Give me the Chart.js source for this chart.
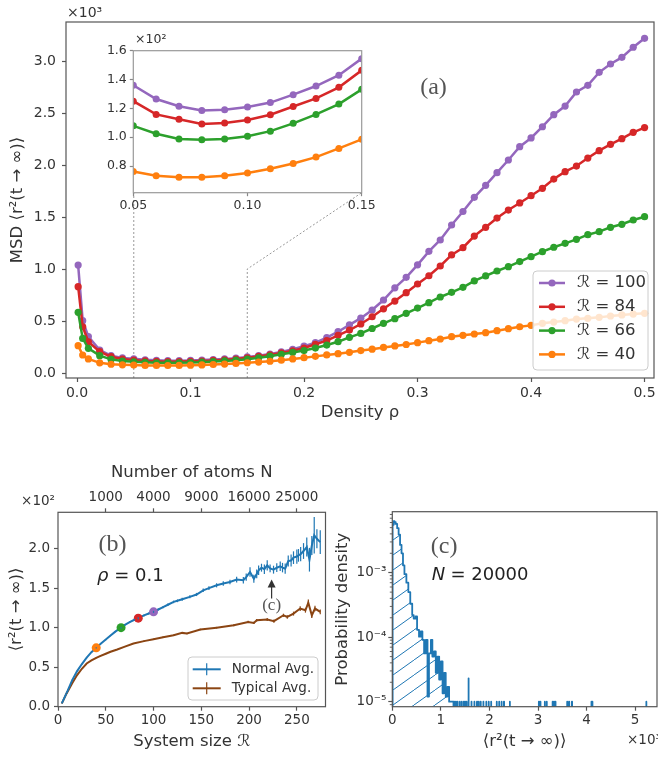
<!DOCTYPE html>
<html lang="en">
<head>
<meta charset="UTF-8" />
<title>MSD vs density</title>
<style>
  body { margin: 0; background: #fff; }
  #wrap { position: relative; width: 658px; height: 757px; overflow: hidden; background: #fff; }
  canvas { position: absolute; }
  #cMain { left: 0; top: 0; }
  #cInset { left: 85px; top: 25px; }
  #cB { left: 0; top: 450px; }
  #cC { left: 330px; top: 450px; }
</style>
<script src="https://cdn.jsdelivr.net/npm/chart.js"></script>
</head>
<body>
<div id="wrap">
  <canvas id="cMain" width="658" height="430"></canvas>
  <canvas id="cB" width="330" height="307"></canvas>
  <canvas id="cC" width="328" height="307"></canvas>
  <canvas id="cInset" width="290" height="190"></canvas>
</div>
<script>
// ---------- panel (a): MSD vs density ----------
const density = [0.001, 0.005, 0.01, 0.02, 0.03, 0.04, 0.05, 0.06, 0.07, 0.08, 0.09, 0.10,
  0.11, 0.12, 0.13, 0.14, 0.15, 0.16, 0.17, 0.18, 0.19, 0.20, 0.21, 0.22, 0.23, 0.24, 0.25,
  0.26, 0.27, 0.28, 0.29, 0.30, 0.31, 0.32, 0.33, 0.34, 0.35, 0.36, 0.37, 0.38, 0.39, 0.40,
  0.41, 0.42, 0.43, 0.44, 0.45, 0.46, 0.47, 0.48, 0.49, 0.50];
const msdR100 = [1038, 503, 350, 221, 167, 145, 136, 126.5, 121.5, 118.5, 119, 121, 124, 129.5,
  135.5, 143, 154.5, 167, 183, 203, 228, 258, 292, 340, 397, 463, 527, 606, 702, 819, 920, 1040,
  1170, 1279, 1423, 1553, 1689, 1805, 1926, 2048, 2176, 2260, 2368, 2484, 2567, 2702, 2766, 2891,
  2971, 3035, 3132, 3218];
const msdR84 = [830, 445, 300, 205, 157, 134, 125, 115.8, 112.4, 109.1, 109.8, 111.9, 115.6, 121.3,
  126.9, 134.6, 146.4, 160, 175, 193, 214, 240, 276, 311, 363, 413, 471, 541, 617, 692, 772, 856,
  935, 1029, 1135, 1205, 1317, 1401, 1490, 1567, 1635, 1705, 1776, 1865, 1936, 1990, 2067, 2138,
  2199, 2253, 2314, 2360];
const msdR66 = [583, 333, 237, 167, 131, 115, 107.9, 102.4, 98.7, 98.2, 98.7, 100.6, 104.2, 109.6,
  115.8, 123, 133.2, 146, 162, 180, 198, 216, 240, 269, 301, 343, 381, 428, 478, 522, 574, 624,
  676, 731, 776, 824, 885, 933, 981, 1022, 1071, 1119, 1167, 1209, 1247, 1285, 1330, 1359, 1401,
  1430, 1471, 1503];
const msdR40 = [263, 173, 135, 98, 84, 79, 76.2, 73.2, 72.3, 72.3, 73.2, 75.1, 78.1, 81.8, 86.2,
  92.2, 98.5, 105, 113, 123, 135, 147, 160, 174, 186, 199, 216, 229, 246, 260, 274, 292, 311, 327,
  349, 362, 375, 388, 407, 426, 445, 458, 478, 490, 503, 519, 526, 535, 548, 558, 567, 574];
const sizeLabels = ['ℛ = 100', 'ℛ = 84', 'ℛ = 66', 'ℛ = 40'];
const aXTicks = [0, 0.1, 0.2, 0.3, 0.4, 0.5];
const aYTicks = [0, 500, 1000, 1500, 2000, 2500, 3000];
const zoomRange = [0.05, 0.15];
const zoomBend = 1000;
const insetXTicks = [0.05, 0.10, 0.15];
const insetYTicks = [80, 100, 120, 140, 160];

// ---------- panel (b): MSD vs system size ----------
const sizeNormal = [4, 10, 15, 20, 25, 30, 35, 40, 45, 50, 55, 60, 66, 70, 75, 80, 84, 90, 95, 100,
  105, 110, 115, 121, 125, 130, 138, 145, 152, 158, 166, 173, 180, 187, 194, 197, 201, 205, 208,
  210, 213, 216, 219, 222, 225.6, 229, 232.6, 235, 237.8, 241, 244, 246.5, 250, 251.7, 254, 257,
  260.4, 263.2, 265.7, 268.2, 271, 274.5];
const normalAvg = [4.2, 20, 34, 45, 54, 62, 69, 74.5, 80, 85, 90, 95, 100, 103.5, 107, 110, 112,
  115.5, 118, 120, 123, 126, 129, 132.6, 134, 136, 139, 142, 147.3, 150, 153.6, 156, 157.8, 160.8,
  160, 164, 170.5, 162, 168, 172.6, 175.9, 174, 178.9, 175, 173.4, 175.9, 177.6, 176, 174.7, 184.3,
  185, 188.6, 190, 191.5, 193, 197, 202, 186, 204, 217, 212.5, 208.3];
const normalErr = [0.2, 0.3, 0.4, 0.5, 0.5, 0.6, 0.6, 0.7, 0.7, 0.8, 0.8, 0.9, 1, 1, 1, 1.1, 1.2,
  1.2, 1.3, 1.3, 1.4, 1.5, 1.5, 1.6, 1.7, 1.8, 1.9, 2, 2.2, 2.4, 2.6, 2.8, 3, 3.5, 4, 4.5, 6, 5,
  5.5, 6, 5, 6, 6.5, 5, 5, 5.5, 6, 6, 6.5, 7, 7.5, 8, 9, 8, 9, 10, 12, 15, 12, 23, 12, 15];
const sizeTypical = [4, 9, 15, 20, 25, 30, 35, 40, 44, 50, 55, 62, 70, 79, 90, 100, 110, 121, 130,
  135, 149, 166, 184, 199, 205, 208, 219, 226, 236, 240, 246.5, 253.5, 259, 262, 265.7, 269, 274.5];
const typicalAvg = [4.2, 16.8, 30, 40, 48, 54.7, 58.5, 61.8, 64, 67, 69.5, 72.4, 76, 80, 83, 85.4,
  88, 90.5, 93.4, 92.6, 97.6, 100, 103, 107.3, 106, 109.4, 110.3, 108.2, 115.7, 113.6, 117.8, 124.2,
  122, 131.7, 115.7, 124.2, 120];
const typicalErr = [0.1, 0.2, 0.2, 0.3, 0.3, 0.3, 0.4, 0.4, 0.4, 0.5, 0.5, 0.5, 0.6, 0.6, 0.7, 0.7,
  0.8, 0.8, 0.9, 0.9, 1, 1, 1.2, 1.5, 1.5, 1.6, 1.8, 2, 2, 2.2, 2.5, 3, 3, 4, 3.5, 3.5, 3];
const markedSizes = [40, 66, 84, 100];
const markedValues = [74.5, 100, 112, 120];
const bXTicks = [0, 50, 100, 150, 200, 250];
const bTopTicks = [50, 100, 150, 200, 250];
const atomCounts = ['1000', '4000', '9000', '16000', '25000'];
const bYTicks = [0, 50, 100, 150, 200];
const arrowNote = { size: 223.6, head: 161, tail: 137, label: 127.5 };

// ---------- panel (c): distribution at N = 20000 ----------
const histEdges = [0, 10, 25, 45, 70, 100, 130, 160, 190, 220, 250, 290, 330, 370, 410, 440, 480,
  510, 550, 585, 620, 655, 690, 725, 755, 795, 825, 860, 895, 930, 965, 1000, 1035, 1065, 1100,
  1135, 1170, 1260];
const histDensity = [3.2e-3, 5.5e-3, 6.3e-3, 6.1e-3, 5.7e-3, 4.9e-3, 3.9e-3, 2.7e-3, 2.0e-3,
  1.3e-3, 9.5e-4, 7.0e-4, 5.0e-4, 3.3e-4, 2.2e-4, 1.95e-4, 2.1e-4, 1.3e-4, 1.02e-4, 1.23e-4,
  9.1e-5, 5.6e-5, 9.1e-5, 1.2e-5, 5.6e-5, 9.1e-5, 5.0e-5, 6.0e-5, 2.8e-5, 5.0e-5, 2.2e-5, 4.2e-5,
  1.35e-5, 2.8e-5, 1.2e-5, 1.7e-5, 1.0e-5];
const spikeCenters = [1275, 1310, 1345, 1390, 1430, 1475, 1500, 1530, 1570, 1630, 1690, 1745, 1780,
  1820, 1875, 1935, 1985, 2035, 2150, 2200, 2250, 2300, 2420, 3020, 3050, 3140, 3180, 3300, 3330,
  3360, 3600, 3640, 3700, 4100, 4120, 5230];
const spikeDensity = [1e-5, 1e-5, 1e-5, 1e-5, 1e-5, 1e-5, 1e-5, 1e-5, 2.3e-5, 1e-5, 1e-5, 1e-5,
  1e-5, 1e-5, 1e-5, 1e-5, 1e-5, 1e-5, 1e-5, 1e-5, 1e-5, 1e-5, 1e-5, 1e-5, 1e-5, 1e-5, 1e-5, 1e-5,
  1e-5, 1e-5, 1e-5, 1e-5, 1e-5, 1e-5, 1e-5, 1e-5];
const spikeBinWidth = 5;
const cXTicks = [0, 1000, 2000, 3000, 4000, 5000];
const cYTicks = [1e-5, 1e-4, 1e-3];
const cYTickLabels = ['10⁻⁵', '10⁻⁴', '10⁻³'];

const lineColors = ['#9467bd', '#d62728', '#2ca02c', '#ff7f0e'];
const blue = '#1f77b4', brown = '#8b4513';

Chart.defaults.font.family = "'DejaVu Sans', sans-serif";
Chart.defaults.color = '#333';
Chart.defaults.animation = false;
Chart.defaults.events = [];
Chart.defaults.plugins.legend.display = false;
Chart.defaults.plugins.tooltip.enabled = false;

// box around every plot area, like matplotlib spines
Chart.register({
  id: 'frame',
  afterDatasetsDraw(chart, args, opts) {
    const { ctx, chartArea: a } = chart;
    ctx.save();
    ctx.strokeStyle = opts.color || '#555';
    ctx.lineWidth = 1.2;
    ctx.strokeRect(a.left, a.top, a.right - a.left, a.bottom - a.top);
    ctx.restore();
  }
});

function makeAxis(o) {
  return Object.assign({
    type: 'linear',
    afterBuildTicks: ax => { ax.ticks = o.ticks.map(v => ({ value: v })); },
    afterFit: ax => {
      if (ax.isHorizontal()) ax.height = o.size; else ax.width = o.size;
      ax.paddingLeft = ax.paddingRight = ax.paddingTop = ax.paddingBottom = 0;
    },
    ticks: { font: { size: o.font || 14 }, padding: o.pad, autoSkip: false, maxRotation: 0,
      color: '#333', callback: o.fmt },
    grid: { drawOnChartArea: false, tickLength: o.tick || 4, color: o.tickColor || '#555', tickWidth: 1.2 },
    border: { display: false },
    title: o.title ? { display: true, text: o.title, font: { size: 16.5 }, padding: 0, color: '#333' }
                   : { display: false }
  }, o.extra || {});
}

function msdDatasets(radius) {
  return [msdR100, msdR84, msdR66, msdR40].map((vals, i) => ({
    label: sizeLabels[i],
    data: density.map((d, j) => ({ x: d, y: vals[j] })),
    borderColor: lineColors[i],
    backgroundColor: lineColors[i],
    pointBackgroundColor: lineColors[i],
    borderWidth: 2.5,
    pointRadius: radius,
    pointBorderWidth: 0,
    order: 4 - i,
    clip: 0
  }));
}

function text(ctx, str, x, y, font, color, align) {
  ctx.save();
  ctx.font = font;
  ctx.fillStyle = color;
  ctx.textAlign = align || 'left';
  ctx.textBaseline = 'middle';
  ctx.fillText(str, x, y);
  ctx.restore();
}

function legendBox(ctx, x, y, w, h) {
  ctx.save();
  ctx.beginPath();
  ctx.roundRect(x, y, w, h, 4);
  ctx.fillStyle = 'rgba(255,255,255,0.8)';
  ctx.fill();
  ctx.strokeStyle = '#ccc';
  ctx.lineWidth = 1;
  ctx.stroke();
  ctx.restore();
}

// ---------- inset ----------
const insetCanvas = document.getElementById('cInset');
const insetChart = new Chart(insetCanvas, {
  type: 'line',
  data: { datasets: msdDatasets(3.5) },
  options: {
    responsive: false,
    layout: { padding: { left: 0, top: 25.7, right: 13.3, bottom: 0.3 } },
    scales: {
      x: makeAxis({ ticks: insetXTicks, size: 22, font: 12.5, pad: 2, tick: 3.5, tickColor: '#888',
        fmt: v => v.toFixed(2), extra: { min: zoomRange[0], max: zoomRange[1] } }),
      y: makeAxis({ ticks: insetYTicks, size: 48.3, font: 12.5, pad: 3, tick: 3.5, tickColor: '#888',
        fmt: v => (v / 100).toFixed(1), extra: { min: 61.5, max: 160 } })
    },
    plugins: { frame: { color: '#999' } }
  },
  plugins: [{
    id: 'insetBg',
    beforeDatasetsDraw(chart) {
      const { ctx, chartArea: a } = chart;
      ctx.save();
      ctx.fillStyle = '#fff';
      ctx.fillRect(a.left, a.top, a.right - a.left, a.bottom - a.top);
      ctx.restore();
    },
    afterDraw(chart) {
      const a = chart.chartArea;
      text(chart.ctx, '×10²', a.left + 1.7, a.top - 10.7, "12.5px 'DejaVu Sans'", '#333');
    }
  }]
});

// ---------- main panel (a) ----------
const mainCanvas = document.getElementById('cMain');
new Chart(mainCanvas, {
  type: 'line',
  data: { datasets: msdDatasets(3.6) },
  options: {
    responsive: false,
    layout: { padding: { left: 7.8, top: 22, right: 3, bottom: 7.8 } },
    scales: {
      x: makeAxis({ ticks: aXTicks, size: 44.2, pad: 3, fmt: v => v.toFixed(1), title: 'Density ρ',
        extra: { min: -0.0097, max: 0.5083 } }),
      y: makeAxis({ ticks: aYTicks, size: 58.2, pad: 6, fmt: v => (v / 1000).toFixed(1),
        title: 'MSD ⟨r²(t → ∞)⟩', extra: { min: -48, max: 3375 } })
    }
  },
  plugins: [{
    id: 'mainDecor',
    beforeDatasetsDraw(chart) {
      const { ctx, scales: { x, y }, chartArea: a } = chart;
      const ia = insetChart.chartArea;
      const insetBottom = insetCanvas.offsetTop - mainCanvas.offsetTop + ia.bottom;
      const insetRight = insetCanvas.offsetLeft - mainCanvas.offsetLeft + ia.right;
      const x0 = x.getPixelForValue(zoomRange[0]);
      const x1 = x.getPixelForValue(zoomRange[1]);
      ctx.save();
      ctx.strokeStyle = '#999';
      ctx.lineWidth = 1;
      ctx.setLineDash([2, 2]);
      ctx.beginPath();
      ctx.moveTo(x0, a.bottom); ctx.lineTo(x0, insetBottom);
      ctx.moveTo(x1, a.bottom); ctx.lineTo(x1, y.getPixelForValue(zoomBend));
      ctx.lineTo(insetRight, insetBottom);
      ctx.stroke();
      ctx.restore();
    },
    afterDraw(chart) {
      const { ctx, chartArea: a } = chart;
      text(ctx, '×10³', a.left + 1, a.top - 9, "14px 'DejaVu Sans'", '#333');
      text(ctx, '(a)', a.left + 0.625 * (a.right - a.left), a.top + 0.185 * (a.bottom - a.top),
        "24px 'Liberation Serif'", '#555', 'center');
      // legend
      const w = 115, h = 99;
      const bx = a.right - 6 - w, by = a.bottom - 8 - h;
      legendBox(ctx, bx, by, w, h);
      chart.data.datasets.forEach((ds, i) => {
        const cy = by + 12 + i * 23.8;
        ctx.save();
        ctx.strokeStyle = ds.borderColor;
        ctx.lineWidth = 2.5;
        ctx.beginPath(); ctx.moveTo(bx + 6, cy); ctx.lineTo(bx + 32, cy); ctx.stroke();
        ctx.fillStyle = ds.borderColor;
        ctx.beginPath(); ctx.arc(bx + 19, cy, 3.6, 0, Math.PI * 2); ctx.fill();
        ctx.restore();
        text(ctx, ds.label, bx + 44, cy, "16.5px 'DejaVu Sans'", '#333');
      });
    }
  }]
});

// ---------- panel (b) ----------
new Chart(document.getElementById('cB'), {
  type: 'line',
  data: {
    datasets: [
      { data: markedSizes.map((s, i) => ({ x: s, y: markedValues[i] })), showLine: false,
        pointRadius: 4.5, pointBorderWidth: 0, pointBackgroundColor: [lineColors[3], lineColors[2], lineColors[1], lineColors[0]],
        order: 0 },
      { label: 'Normal Avg.', data: sizeNormal.map((s, i) => ({ x: s, y: normalAvg[i] })),
        errors: normalErr, borderColor: blue, borderWidth: 2, pointRadius: 0, order: 1 },
      { label: 'Typical Avg.', data: sizeTypical.map((s, i) => ({ x: s, y: typicalAvg[i] })),
        errors: typicalErr, borderColor: brown, borderWidth: 2, pointRadius: 0, order: 2 }
    ]
  },
  options: {
    responsive: false,
    layout: { padding: { left: 7, top: 13, right: 4.5, bottom: 5.1 } },
    scales: {
      x: makeAxis({ ticks: bXTicks, size: 45.2, font: 13.5, pad: 2, fmt: v => String(v),
        title: 'System size ℛ', extra: { min: 0, max: 280 } }),
      xTop: makeAxis({ ticks: bTopTicks, size: 49.3, font: 13.5, pad: 3, fmt: (v, i) => atomCounts[i],
        title: 'Number of atoms N', extra: { position: 'top', min: 0, max: 280 } }),
      y: makeAxis({ ticks: bYTicks, size: 51, font: 13.5, pad: 4, fmt: v => (v / 100).toFixed(1),
        title: '⟨r²(t → ∞)⟩', extra: { min: 0, max: 246 } })
    }
  },
  plugins: [{
    id: 'bDecor',
    afterDatasetsDraw(chart) {
      const { ctx, scales: { x, y } } = chart;
      chart.data.datasets.forEach(ds => {
        if (!ds.errors) return;
        ctx.save();
        ctx.strokeStyle = ds.borderColor;
        ctx.lineWidth = 1.2;
        ds.data.forEach((p, j) => {
          const px = x.getPixelForValue(p.x);
          ctx.beginPath();
          ctx.moveTo(px, y.getPixelForValue(p.y - ds.errors[j]));
          ctx.lineTo(px, y.getPixelForValue(p.y + ds.errors[j]));
          ctx.stroke();
        });
        ctx.restore();
      });
    },
    afterDraw(chart) {
      const { ctx, chartArea: a, scales: { x, y } } = chart;
      const W = a.right - a.left, H = a.bottom - a.top;
      text(ctx, '×10²', a.left - 3, a.top - 10.6, "13.5px 'DejaVu Sans'", '#333', 'right');
      text(ctx, '(b)', a.left + 0.204 * W, a.top + 0.168 * H, "24px 'Liberation Serif'", '#555', 'center');
      const ty = a.top + 0.331 * H, tx = a.left + 0.146 * W;
      text(ctx, 'ρ', tx, ty, "italic 18px 'DejaVu Sans'", '#222');
      text(ctx, ' = 0.1', tx + 11.5, ty, "18px 'DejaVu Sans'", '#222');
      // arrow pointing to the N = 20000 point
      const hx = x.getPixelForValue(arrowNote.size);
      const hy = y.getPixelForValue(arrowNote.head);
      ctx.save();
      ctx.strokeStyle = '#333'; ctx.fillStyle = '#333'; ctx.lineWidth = 1.2;
      ctx.beginPath(); ctx.moveTo(hx, y.getPixelForValue(arrowNote.tail)); ctx.lineTo(hx, hy + 6); ctx.stroke();
      ctx.beginPath(); ctx.moveTo(hx, hy); ctx.lineTo(hx - 4, hy + 8); ctx.lineTo(hx + 4, hy + 8); ctx.closePath(); ctx.fill();
      ctx.restore();
      text(ctx, '(c)', hx, y.getPixelForValue(arrowNote.label), "17px 'Liberation Serif'", '#555', 'center');
      // legend
      const w = 130, h = 43;
      const bx = a.right - 7.5 - w, by = a.bottom - 6.7 - h;
      legendBox(ctx, bx, by, w, h);
      chart.data.datasets.slice(1).forEach((ds, i) => {
        const cy = by + 12.3 + i * 19;
        ctx.save();
        ctx.strokeStyle = ds.borderColor;
        ctx.lineWidth = 2;
        ctx.beginPath(); ctx.moveTo(bx + 4.7, cy); ctx.lineTo(bx + 32.7, cy); ctx.stroke();
        ctx.lineWidth = 1.2;
        ctx.beginPath(); ctx.moveTo(bx + 18.7, cy - 6); ctx.lineTo(bx + 18.7, cy + 6); ctx.stroke();
        ctx.restore();
        text(ctx, ds.label, bx + 43.7, cy, "13.5px 'DejaVu Sans'", '#333');
      });
    }
  }]
});

// ---------- panel (c) ----------
const floorValue = 1e-9;
function stepPoints() {
  const pts = [{ x: histEdges[0], y: floorValue }];
  histDensity.forEach((d, i) => { pts.push({ x: histEdges[i], y: d }, { x: histEdges[i + 1], y: d }); });
  pts.push({ x: histEdges[histEdges.length - 1], y: floorValue });
  spikeCenters.forEach((c, i) => {
    const l = c - spikeBinWidth / 2, r = c + spikeBinWidth / 2;
    pts.push({ x: l, y: floorValue }, { x: l, y: spikeDensity[i] }, { x: r, y: spikeDensity[i] }, { x: r, y: floorValue });
  });
  return pts;
}
function hatchPattern(ctx) {
  const w = 21, h = 15;
  const c = document.createElement('canvas');
  c.width = w; c.height = h;
  const g = c.getContext('2d');
  g.strokeStyle = blue; g.lineWidth = 1;
  g.beginPath();
  g.moveTo(-w, 2 * h); g.lineTo(2 * w, -h);
  g.stroke();
  return ctx.createPattern(c, 'repeat');
}
const cCanvas = document.getElementById('cC');
new Chart(cCanvas, {
  type: 'line',
  data: {
    datasets: [{
      data: stepPoints(),
      borderColor: blue,
      borderWidth: 1.8,
      borderJoinStyle: 'round',
      pointRadius: 0,
      fill: 'start',
      backgroundColor: hatchPattern(cCanvas.getContext('2d')),
      clip: 0
    }]
  },
  options: {
    responsive: false,
    layout: { padding: { left: 3, top: 61.7, right: 1, bottom: 5.1 } },
    scales: {
      x: makeAxis({ ticks: cXTicks, size: 45.2, font: 13.5, pad: 2, fmt: v => String(v / 1000),
        title: '⟨r²(t → ∞)⟩', extra: { min: 0, max: 5450 } }),
      y: makeAxis({ ticks: cYTicks, size: 59.3, font: 13.5, pad: 2, fmt: (v, i) => cYTickLabels[i],
        title: 'Probability density', extra: { type: 'logarithmic', min: 8.36e-6, max: 8.83e-3 } })
    }
  },
  plugins: [{
    id: 'cDecor',
    afterDraw(chart) {
      const { ctx, chartArea: a, scales: { y } } = chart;
      const W = a.right - a.left, H = a.bottom - a.top;
      // minor log ticks
      ctx.save();
      ctx.strokeStyle = '#555'; ctx.lineWidth = 0.9;
      for (let e = -6; e <= -2; e++) {
        for (let k = 2; k <= 9; k++) {
          const v = k * Math.pow(10, e);
          if (v < y.min || v > y.max) continue;
          const py = y.getPixelForValue(v);
          ctx.beginPath(); ctx.moveTo(a.left - 2.5, py); ctx.lineTo(a.left, py); ctx.stroke();
        }
      }
      ctx.restore();
      text(ctx, '(c)', a.left + 0.196 * W, a.top + 0.18 * H, "24px 'Liberation Serif'", '#555', 'center');
      const tx = a.left + 0.149 * W, ty = a.top + 0.325 * H;
      text(ctx, 'N', tx, ty, "italic 18px 'DejaVu Sans'", '#222');
      text(ctx, ' = 20000', tx + 13, ty, "18px 'DejaVu Sans'", '#222');
      text(ctx, '×10³', a.right - 30, a.bottom + 33.3, "13.5px 'DejaVu Sans'", '#333');
    }
  }]
});
</script>
</body>
</html>
